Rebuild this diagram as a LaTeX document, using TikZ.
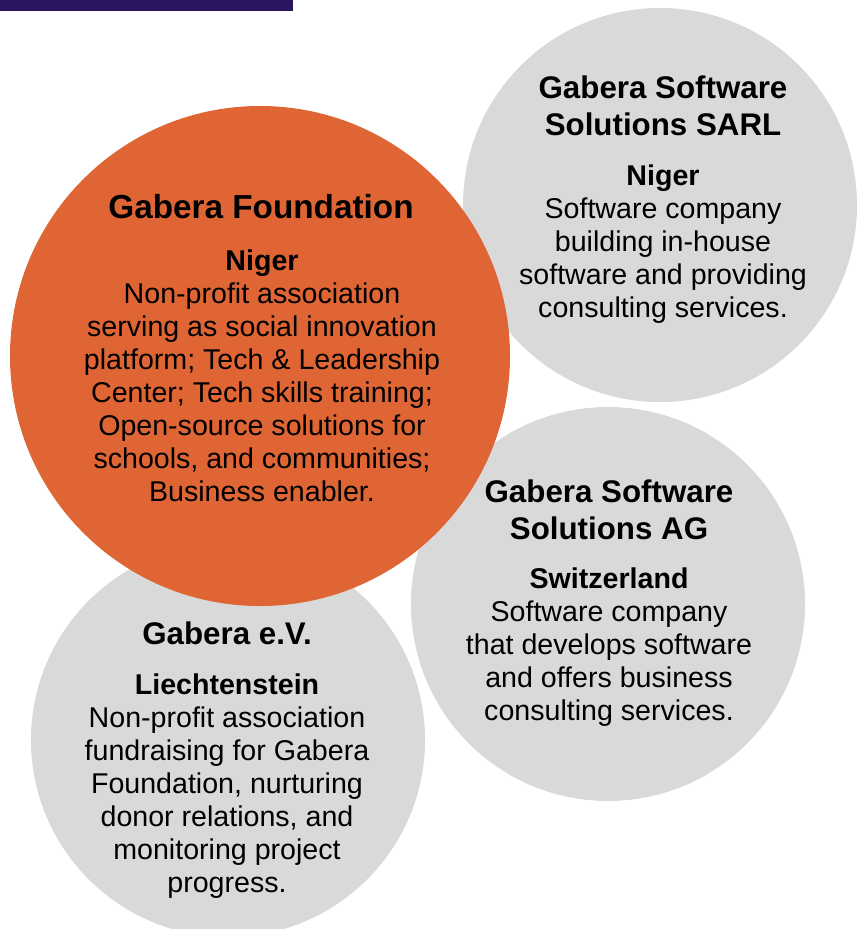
\documentclass[tikz,border=0pt]{standalone}
\usepackage{fontspec}
\setmainfont{Liberation Sans}
\definecolor{gorange}{HTML}{E06535}
\definecolor{ggray}{HTML}{D9D9D9}
\definecolor{gbar}{HTML}{2B1560}
\begin{document}
\begin{tikzpicture}[x=1pt,y=-1pt,
  blob/.style={circle,inner sep=0pt,draw=none},
  ttl/.style={align=center,font=\bfseries\fontsize{31.3}{37}\selectfont,inner sep=0pt},
  ttlbig/.style={align=center,font=\bfseries\fontsize{33.3}{37}\selectfont,inner sep=0pt},
  txt/.style={align=center,font=\fontsize{28.6}{33}\selectfont,inner sep=0pt}]
\useasboundingbox (0,0) rectangle (860,929);
\fill[gbar] (0,0) rectangle (293,11);
% circles
\node[blob,fill=ggray,minimum size=394pt] (cev) at (228,740) {};
\node[blob,fill=ggray,minimum size=394pt] (csarl) at (660,205) {};
\node[blob,fill=ggray,minimum size=394pt] (cag) at (608,604) {};
\node[blob,fill=gorange,minimum size=500pt] (cfnd) at (260,356) {};
% Foundation
\node[ttlbig] (tfnd) at (261,207) {Gabera Foundation};
\node[txt] (bfnd) at (262,376) {\textbf{Niger}\\Non-profit association\\serving as social innovation\\platform; Tech \& Leadership\\Center; Tech skills training;\\Open-source solutions for\\schools, and communities;\\Business enabler.};
% SARL
\node[ttl] (tsarl) at (663,105.5) {Gabera Software\\Solutions SARL};
\node[txt] (bsarl) at (663,244.5) {\textbf{Niger}\\Software company\\building in-house\\software and providing\\consulting services.};
% AG
\node[ttl] (tag) at (609,510) {Gabera Software\\Solutions AG};
\node[txt] (bag) at (609,647.5) {\textbf{Switzerland}\\Software company\\that develops software\\and offers business\\consulting services.};
% e.V.
\node[ttl] (tev) at (227,633) {Gabera e.V.};
\node[txt] (bev) at (227,786) {\textbf{Liechtenstein}\\Non-profit association\\fundraising for Gabera\\Foundation, nurturing\\donor relations, and\\monitoring project\\progress.};
\end{tikzpicture}
\end{document}
